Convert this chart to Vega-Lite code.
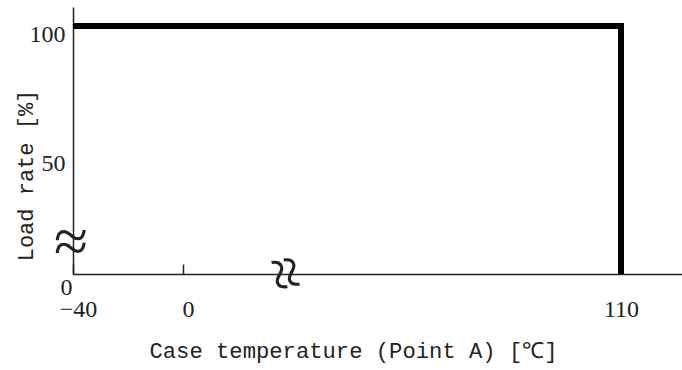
{
  "$schema": "https://vega.github.io/schema/vega-lite/v6.json",
  "width": 609,
  "height": 267,
  "autosize": "none",
  "padding": {"left": 73, "top": 7, "right": 0, "bottom": 96},
  "background": "white",
  "config": {"view": {"stroke": null}},
  "datasets": {
    "curve": [
      {"i": 1, "temp": -40, "load": 100},
      {"i": 2, "temp": 110, "load": 100},
      {"i": 3, "temp": 110, "load": 0}
    ],
    "ybreak": [{"temp": -40, "load": 13, "sym": "≈"}],
    "xbreak": [{"temp": 25.4, "load": 0, "sym": "≈"}]
  },
  "layer": [
    {
      "data": {"name": "curve"},
      "mark": {"type": "line", "color": "black", "strokeWidth": 6, "strokeJoin": "miter", "strokeCap": "butt"},
      "encoding": {
        "x": {
          "field": "temp", "type": "quantitative",
          "scale": {"domain": [-40, 0, 110, 125.3], "range": [0, 110, 548, 609], "nice": false, "zero": false},
          "axis": {
            "values": [-40, 0, 110],
            "title": "Case temperature (Point A) [℃]",
            "grid": false,
            "tickSize": -10, "tickColor": "#222", "tickWidth": 1.5,
            "domainColor": "#222", "domainWidth": 1.5,
            "labelFont": "Liberation Serif", "labelFontSize": 24, "labelColor": "#222",
            "labelPadding": 33, "labelBaseline": "top",
            "labelOffset": {"condition": {"test": "datum.value < 50", "value": 5}, "value": 0},
            "labelFlush": false, "labelOverlap": false,
            "titleFont": "Liberation Mono", "titleFontSize": 22.2, "titleFontWeight": "normal", "titleColor": "#222",
            "titleX": 280, "titleY": 76, "titleBaseline": "middle", "titleAlign": "center"
          }
        },
        "y": {
          "field": "load", "type": "quantitative",
          "scale": {"domain": [0, 50, 100, 107.4], "range": [267, 148, 19, 0], "nice": false, "zero": false},
          "axis": {
            "values": [0, 50, 100],
            "title": "Load rate [%]",
            "grid": false,
            "ticks": false, "tickSize": 0,
            "domainColor": "#222", "domainWidth": 1.5,
            "labelFont": "Liberation Serif", "labelFontSize": 24, "labelColor": "#222",
            "labelPadding": {"condition": {"test": "datum.value == 0", "value": 1}, "value": 8},
            "labelOffset": {"condition": {"test": "datum.value == 0", "value": 13}, "value": 8},
            "labelFlush": false, "labelOverlap": false,
            "titleFont": "Liberation Mono", "titleFontSize": 22, "titleFontWeight": "normal", "titleColor": "#222",
            "titleX": -48, "titleY": 168, "titleBaseline": "middle", "titleAlign": "center"
          }
        },
        "order": {"field": "i"}
      }
    },
    {
      "data": {"name": "ybreak"},
      "mark": {"type": "text", "font": "DejaVu Sans", "fontWeight": 200, "fontSize": 62, "color": "#222", "align": "center", "baseline": "middle", "dx": -2, "dy": 0},
      "encoding": {
        "x": {"field": "temp", "type": "quantitative"},
        "y": {"field": "load", "type": "quantitative"},
        "text": {"field": "sym"}
      }
    },
    {
      "data": {"name": "xbreak"},
      "mark": {"type": "text", "font": "DejaVu Sans", "fontWeight": 200, "fontSize": 62, "color": "#222", "align": "center", "baseline": "middle", "angle": 78},
      "encoding": {
        "x": {"field": "temp", "type": "quantitative"},
        "y": {"field": "load", "type": "quantitative"},
        "text": {"field": "sym"}
      }
    }
  ]
}
